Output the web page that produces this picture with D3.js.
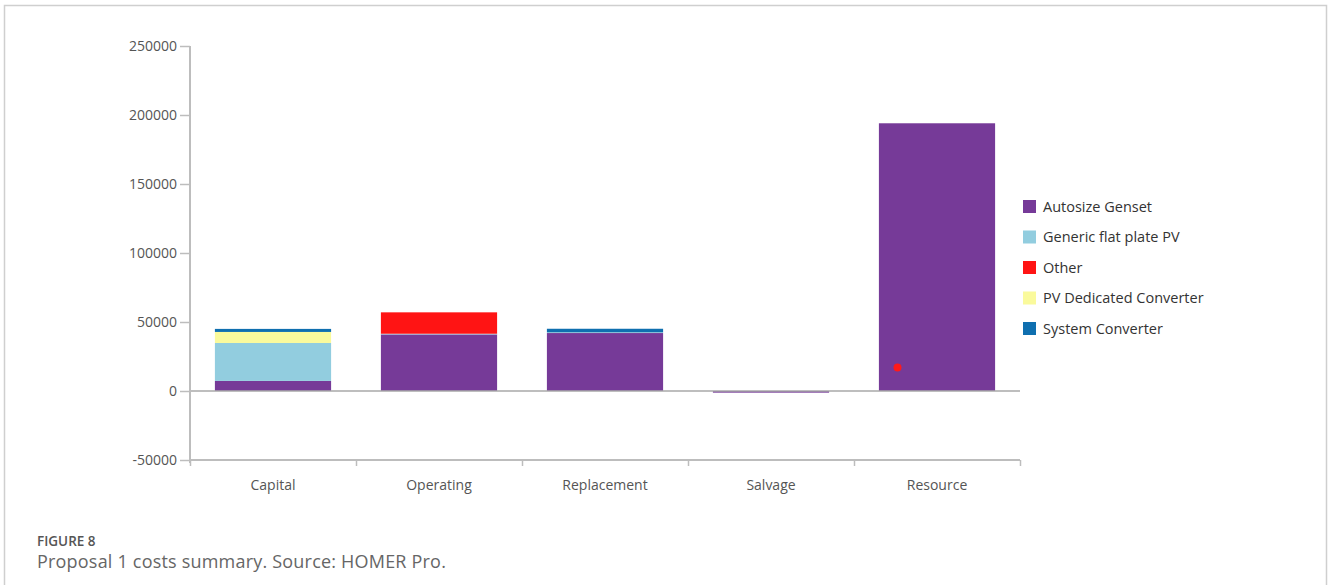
<!DOCTYPE html>
<html>
<head>
<meta charset="utf-8">
<script src="https://cdn.jsdelivr.net/npm/d3@7"></script>
<style>
  html, body { margin: 0; padding: 0; background: #fff; }
  svg { display: block; }
</style>
</head>
<body>
<svg id="chart" width="1328" height="585"></svg>
<script>
// ---- data ----
const categories = ["Capital", "Operating", "Replacement", "Salvage", "Resource"];
const seriesNames = ["Autosize Genset", "Generic flat plate PV", "Other", "PV Dedicated Converter", "System Converter"];
const autosizeGenset = [7300, 41000, 42000, -1200, 194000];
const genericPV = [27500, 500, 600, 0, 0];
const other = [0, 15500, 0, 0, 0];
const pvDedicatedConverter = [8000, 0, 0, 0, 0];
const systemConverter = [2200, 0, 2500, 0, 0];
const yTicks = [-50000, 0, 50000, 100000, 150000, 200000, 250000];
const markerPoint = { category: "Resource", value: 17000, offset: 0.16 };
const colors = ["#763A98", "#92CDDF", "#FF1414", "#FAFA9C", "#0F6FAF"];

const seriesValues = [autosizeGenset, genericPV, other, pvDedicatedConverter, systemConverter];
const table = categories.map((c, i) => {
  const row = { category: c };
  seriesNames.forEach((s, k) => row[s] = seriesValues[k][i]);
  return row;
});

const svg = d3.select("#chart");
const font = "'Open Sans', 'Noto Sans', sans-serif";

// frame
svg.append("path")
  .attr("d", "M4.5,590 L4.5,5.5 L1326.5,5.5 L1326.5,590")
  .attr("fill", "none").attr("stroke", "#cfcfcf").attr("stroke-width", 1.5);

const x = d3.scaleBand().domain(categories).range([190, 1020])
  .paddingInner(0.3).paddingOuter(0.15);
const xEdge = d3.scaleLinear().domain([0, categories.length]).range([190, 1020]);
const y = d3.scaleLinear().domain([-50000, 250000]).range([460, 46]);

const stack = d3.stack().keys(seriesNames).offset(d3.stackOffsetDiverging);
const stacked = stack(table);

// bars
svg.append("g").selectAll("g").data(stacked).join("g")
  .attr("fill", (d, i) => colors[i])
  .selectAll("rect").data(d => d).join("rect")
  .attr("x", d => x(d.data.category))
  .attr("width", x.bandwidth())
  .attr("y", d => y(Math.max(d[0], d[1])))
  .attr("height", d => Math.abs(y(d[0]) - y(d[1])));

// zero line
svg.append("line")
  .attr("x1", 190).attr("x2", 1020)
  .attr("y1", y(0)).attr("y2", y(0))
  .attr("stroke", "#a8a8a8").attr("stroke-width", 1.5);

// y axis
const yAxis = svg.append("g").attr("transform", "translate(190,0)")
  .call(d3.axisLeft(y).tickValues(yTicks).tickSize(10).tickPadding(3).tickFormat(d => String(d)));
yAxis.select(".domain").attr("stroke", "#bdbdbd").attr("stroke-width", 2)
  .attr("d", `M0,${y(-50000) + 3}V${y(250000)}`);
yAxis.selectAll(".tick line").attr("stroke", "#bdbdbd").attr("stroke-width", 1.5);
yAxis.selectAll(".tick text").attr("fill", "#555").style("font-family", font).style("font-size", "14px");

// x axis (boundary ticks)
const xAxisEdge = svg.append("g").attr("transform", `translate(0,${y(-50000)})`)
  .call(d3.axisBottom(xEdge).ticks(categories.length).tickSize(6).tickFormat(""));
xAxisEdge.select(".domain").attr("stroke", "#bdbdbd").attr("stroke-width", 2)
  .attr("d", "M190,0H1020");
xAxisEdge.selectAll(".tick line").attr("stroke", "#bdbdbd").attr("stroke-width", 1.5);

// x labels
const xAxis = svg.append("g").attr("transform", `translate(0,${y(-50000)})`)
  .call(d3.axisBottom(x).tickSize(0).tickPadding(20));
xAxis.select(".domain").remove();
xAxis.selectAll(".tick text").attr("fill", "#555").style("font-family", font).style("font-size", "14px");

// red marker
svg.append("circle")
  .attr("cx", x(markerPoint.category) + x.bandwidth() * markerPoint.offset)
  .attr("cy", y(markerPoint.value))
  .attr("r", 4).attr("fill", "#FF1A1A");

// legend
const legend = svg.append("g").attr("transform", "translate(1023,200)");
const li = legend.selectAll("g").data(seriesNames).join("g")
  .attr("transform", (d, i) => `translate(0,${i * 30.5})`);
li.append("rect").attr("width", 13).attr("height", 13).attr("fill", (d, i) => colors[i]);
li.append("text").attr("x", 20).attr("y", 11.5).text(d => d)
  .attr("fill", "#333").style("font-family", font).style("font-size", "14.5px");

// caption
svg.append("text").attr("x", 37).attr("y", 546).text("FIGURE 8")
  .attr("fill", "#555").style("font-family", font).style("font-size", "13.5px").style("font-weight", 600);
svg.append("text").attr("x", 37).attr("y", 568).text("Proposal 1 costs summary. Source: HOMER Pro.")
  .attr("fill", "#666").style("font-family", font).style("font-size", "18px").style("letter-spacing", "0.2px");
</script>
</body>
</html>
